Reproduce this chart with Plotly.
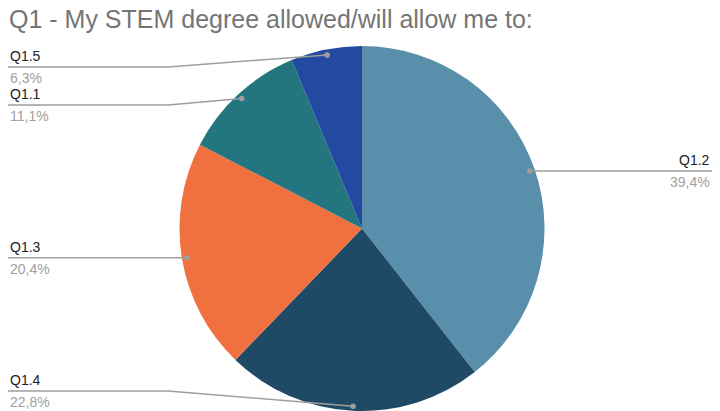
import math
import plotly.graph_objects as go

# ---- data ----
labels = ["Q1.2", "Q1.4", "Q1.3", "Q1.1", "Q1.5"]
values = [39.4, 22.8, 20.4, 11.1, 6.3]
pct_text = ["39,4%", "22,8%", "20,4%", "11,1%", "6,3%"]
colors = ["#5a8fab", "#1f4a66", "#f0713f", "#237680", "#2349a0"]
title_text = "Q1 - My STEM degree allowed/will allow me to:"

W, H = 720, 411
cx, cy, r = 362, 229, 183


def px(x):
    return x / W


def py(y):
    return 1 - y / H


fig = go.Figure()
fig.add_trace(go.Pie(
    labels=labels, values=values, sort=False, direction="clockwise", rotation=0,
    marker=dict(colors=colors, line=dict(width=0)), textinfo="none",
    showlegend=False, hoverinfo="label+percent",
    domain=dict(x=[px(cx - r), px(cx + r)], y=[0, min(1, (H - cy + r) / H)]),
))

total = sum(values)
cum = 0
items = []
for lab, v, pt in zip(labels, values, pct_text):
    mid = (cum + v / 2) / total
    cum += v
    th = 2 * math.pi * mid
    d = 0.97 * r
    dx = cx + d * math.sin(th)
    dy = cy - d * math.cos(th)
    side = "right" if math.sin(th) > 0 else "left"
    items.append(dict(lab=lab, pt=pt, dx=dx, dy=dy, side=side))

# label line y positions: clamp and separate
left = sorted([it for it in items if it["side"] == "left"], key=lambda it: it["dy"])
prev = None
for it in left:
    y = max(it["dy"], 67)
    if prev is not None:
        y = max(y, prev + 38)
    it["ly"] = y
    prev = y
for it in left:
    it["ly"] = min(it["ly"], 391)
for it in items:
    if it["side"] == "right":
        it["ly"] = it["dy"]

line_col = "#9e9e9e"
shapes = []
annotations = []
for it in items:
    ly = it["ly"]
    if it["side"] == "left":
        path = f"M {px(8)},{py(ly)} L {px(168)},{py(ly)} L {px(it['dx'])},{py(it['dy'])}"
        xa, xanchor = px(8), "left"
    else:
        path = f"M {px(it['dx'])},{py(it['dy'])} L {px(556)},{py(ly)} L {px(712)},{py(ly)}"
        xa, xanchor = px(712), "right"
    shapes.append(dict(type="path", path=path, xref="paper", yref="paper",
                       line=dict(color=line_col, width=1.5)))
    shapes.append(dict(type="circle", xref="paper", yref="paper",
                       x0=px(it["dx"] - 2.8), x1=px(it["dx"] + 2.8),
                       y0=py(it["dy"] + 2.8), y1=py(it["dy"] - 2.8),
                       fillcolor=line_col, line=dict(width=0)))
    annotations.append(dict(text=it["lab"], x=xa, y=py(ly - 1), xref="paper", yref="paper",
                            xanchor=xanchor, yanchor="bottom", showarrow=False,
                            font=dict(size=14, color="#222222", family="Liberation Sans, Arial")))
    annotations.append(dict(text=it["pt"], x=xa, y=py(ly + 1), xref="paper", yref="paper",
                            xanchor=xanchor, yanchor="top", showarrow=False,
                            font=dict(size=14, color="#a0a0a0", family="Liberation Sans, Arial")))

annotations.append(dict(text=title_text, x=px(7), y=py(19), xref="paper", yref="paper",
                        xanchor="left", yanchor="middle", showarrow=False,
                        font=dict(size=25, color="#757575", family="Liberation Sans, Arial")))

fig.update_layout(
    width=W, height=H, margin=dict(l=0, r=0, t=0, b=0),
    paper_bgcolor="white", plot_bgcolor="white",
    shapes=shapes, annotations=annotations,
)
fig.write_html("out.html", config={"displayModeBar": False},
               post_script="document.body.style.margin='0';document.body.style.overflow='hidden';")
